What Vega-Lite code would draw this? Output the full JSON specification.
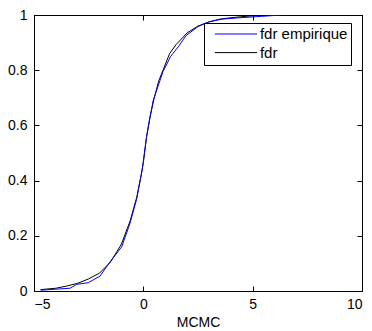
{
  "$schema": "https://vega.github.io/schema/vega-lite/v6.json",
  "width": 328,
  "height": 276,
  "autosize": {"type": "none"},
  "padding": {"left": 34, "top": 15, "right": 10, "bottom": 40},
  "config": {
    "view": {"stroke": "black", "strokeWidth": 1},
    "font": "Liberation Sans",
    "axis": {"grid": false, "domainColor": "black", "tickColor": "black", "labelColor": "black", "titleColor": "black", "labelFont": "Liberation Sans", "titleFont": "Liberation Sans", "labelFontSize": 14, "titleFontSize": 14, "titleFontWeight": "normal"}
  },
  "data": {"values": [
    {"series": "fdr", "x": -4.7, "y": 0.005},
    {"series": "fdr", "x": -4.0, "y": 0.01},
    {"series": "fdr", "x": -3.5, "y": 0.018},
    {"series": "fdr", "x": -3.0, "y": 0.028},
    {"series": "fdr", "x": -2.5, "y": 0.044},
    {"series": "fdr", "x": -2.0, "y": 0.065},
    {"series": "fdr", "x": -1.5, "y": 0.105},
    {"series": "fdr", "x": -1.0, "y": 0.17},
    {"series": "fdr", "x": -0.6, "y": 0.255},
    {"series": "fdr", "x": -0.3, "y": 0.34},
    {"series": "fdr", "x": -0.1, "y": 0.42},
    {"series": "fdr", "x": 0.0, "y": 0.465},
    {"series": "fdr", "x": 0.15, "y": 0.56},
    {"series": "fdr", "x": 0.3, "y": 0.63},
    {"series": "fdr", "x": 0.5, "y": 0.70},
    {"series": "fdr", "x": 0.7, "y": 0.76},
    {"series": "fdr", "x": 0.9, "y": 0.80},
    {"series": "fdr", "x": 1.2, "y": 0.86},
    {"series": "fdr", "x": 1.5, "y": 0.893},
    {"series": "fdr", "x": 2.0, "y": 0.935},
    {"series": "fdr", "x": 2.5, "y": 0.96},
    {"series": "fdr", "x": 3.0, "y": 0.975},
    {"series": "fdr", "x": 3.5, "y": 0.985},
    {"series": "fdr", "x": 4.0, "y": 0.99},
    {"series": "fdr", "x": 4.5, "y": 0.994},
    {"series": "fdr", "x": 5.0, "y": 0.997},
    {"series": "fdr", "x": 5.5, "y": 0.999},
    {"series": "fdr", "x": 6.5, "y": 1.0},
    {"series": "fdr empirique", "x": -4.7, "y": 0.003},
    {"series": "fdr empirique", "x": -3.35, "y": 0.01},
    {"series": "fdr empirique", "x": -3.05, "y": 0.024},
    {"series": "fdr empirique", "x": -2.52, "y": 0.03},
    {"series": "fdr empirique", "x": -1.98, "y": 0.054},
    {"series": "fdr empirique", "x": -1.52, "y": 0.106},
    {"series": "fdr empirique", "x": -0.99, "y": 0.16},
    {"series": "fdr empirique", "x": -0.61, "y": 0.245},
    {"series": "fdr empirique", "x": -0.3, "y": 0.335},
    {"series": "fdr empirique", "x": -0.05, "y": 0.44},
    {"series": "fdr empirique", "x": 0.15, "y": 0.56},
    {"series": "fdr empirique", "x": 0.45, "y": 0.69},
    {"series": "fdr empirique", "x": 0.9, "y": 0.795},
    {"series": "fdr empirique", "x": 1.25, "y": 0.85},
    {"series": "fdr empirique", "x": 1.6, "y": 0.885},
    {"series": "fdr empirique", "x": 1.95, "y": 0.925},
    {"series": "fdr empirique", "x": 2.5, "y": 0.958},
    {"series": "fdr empirique", "x": 3.0, "y": 0.975},
    {"series": "fdr empirique", "x": 3.6, "y": 0.985},
    {"series": "fdr empirique", "x": 4.4, "y": 0.99},
    {"series": "fdr empirique", "x": 5.4, "y": 0.995},
    {"series": "fdr empirique", "x": 6.3, "y": 1.0}
  ]},
  "layer": [
    {
      "mark": {"type": "line", "strokeWidth": 1, "clip": true},
      "encoding": {
        "x": {"field": "x", "type": "quantitative", "scale": {"domain": [-5, 10], "nice": false, "zero": false},
          "axis": {"orient": "bottom", "values": [-5, 0, 5, 10], "title": "MCMC", "tickSize": -5, "labelPadding": 11, "titlePadding": 4, "format": "d"}},
        "y": {"field": "y", "type": "quantitative", "scale": {"domain": [0, 1], "nice": false},
          "axis": {"orient": "left", "values": [0, 0.2, 0.4, 0.6, 0.8, 1], "title": null, "tickSize": -5, "labelPadding": 12, "format": "~g"}},
        "color": {"field": "series", "type": "nominal", "sort": ["fdr empirique", "fdr"],
          "scale": {"domain": ["fdr empirique", "fdr"], "range": ["#0000ff", "#000000"]},
          "legend": {"title": null, "orient": "none", "legendX": 170, "legendY": 8, "strokeColor": "black", "fillColor": "white", "padding": 3.5, "symbolType": "M-4.23,0H4.23", "symbolSize": 100, "symbolOffset": 21, "symbolStrokeWidth": 1, "labelOffset": 16.4, "labelFontSize": 15, "labelFont": "Liberation Sans", "labelColor": "black", "rowPadding": 2.6}}
      }
    },
    {
      "mark": {"type": "rule", "opacity": 0},
      "encoding": {
        "x": {"field": "x", "type": "quantitative", "aggregate": "min",
          "axis": {"orient": "top", "values": [-5, 0, 5, 10], "labels": false, "title": null, "tickSize": -5}},
        "y": {"field": "y", "type": "quantitative", "aggregate": "min",
          "axis": {"orient": "right", "values": [0, 0.2, 0.4, 0.6, 0.8, 1], "labels": false, "title": null, "tickSize": -5}}
      }
    }
  ],
  "resolve": {"axis": {"x": "independent", "y": "independent"}}
}
